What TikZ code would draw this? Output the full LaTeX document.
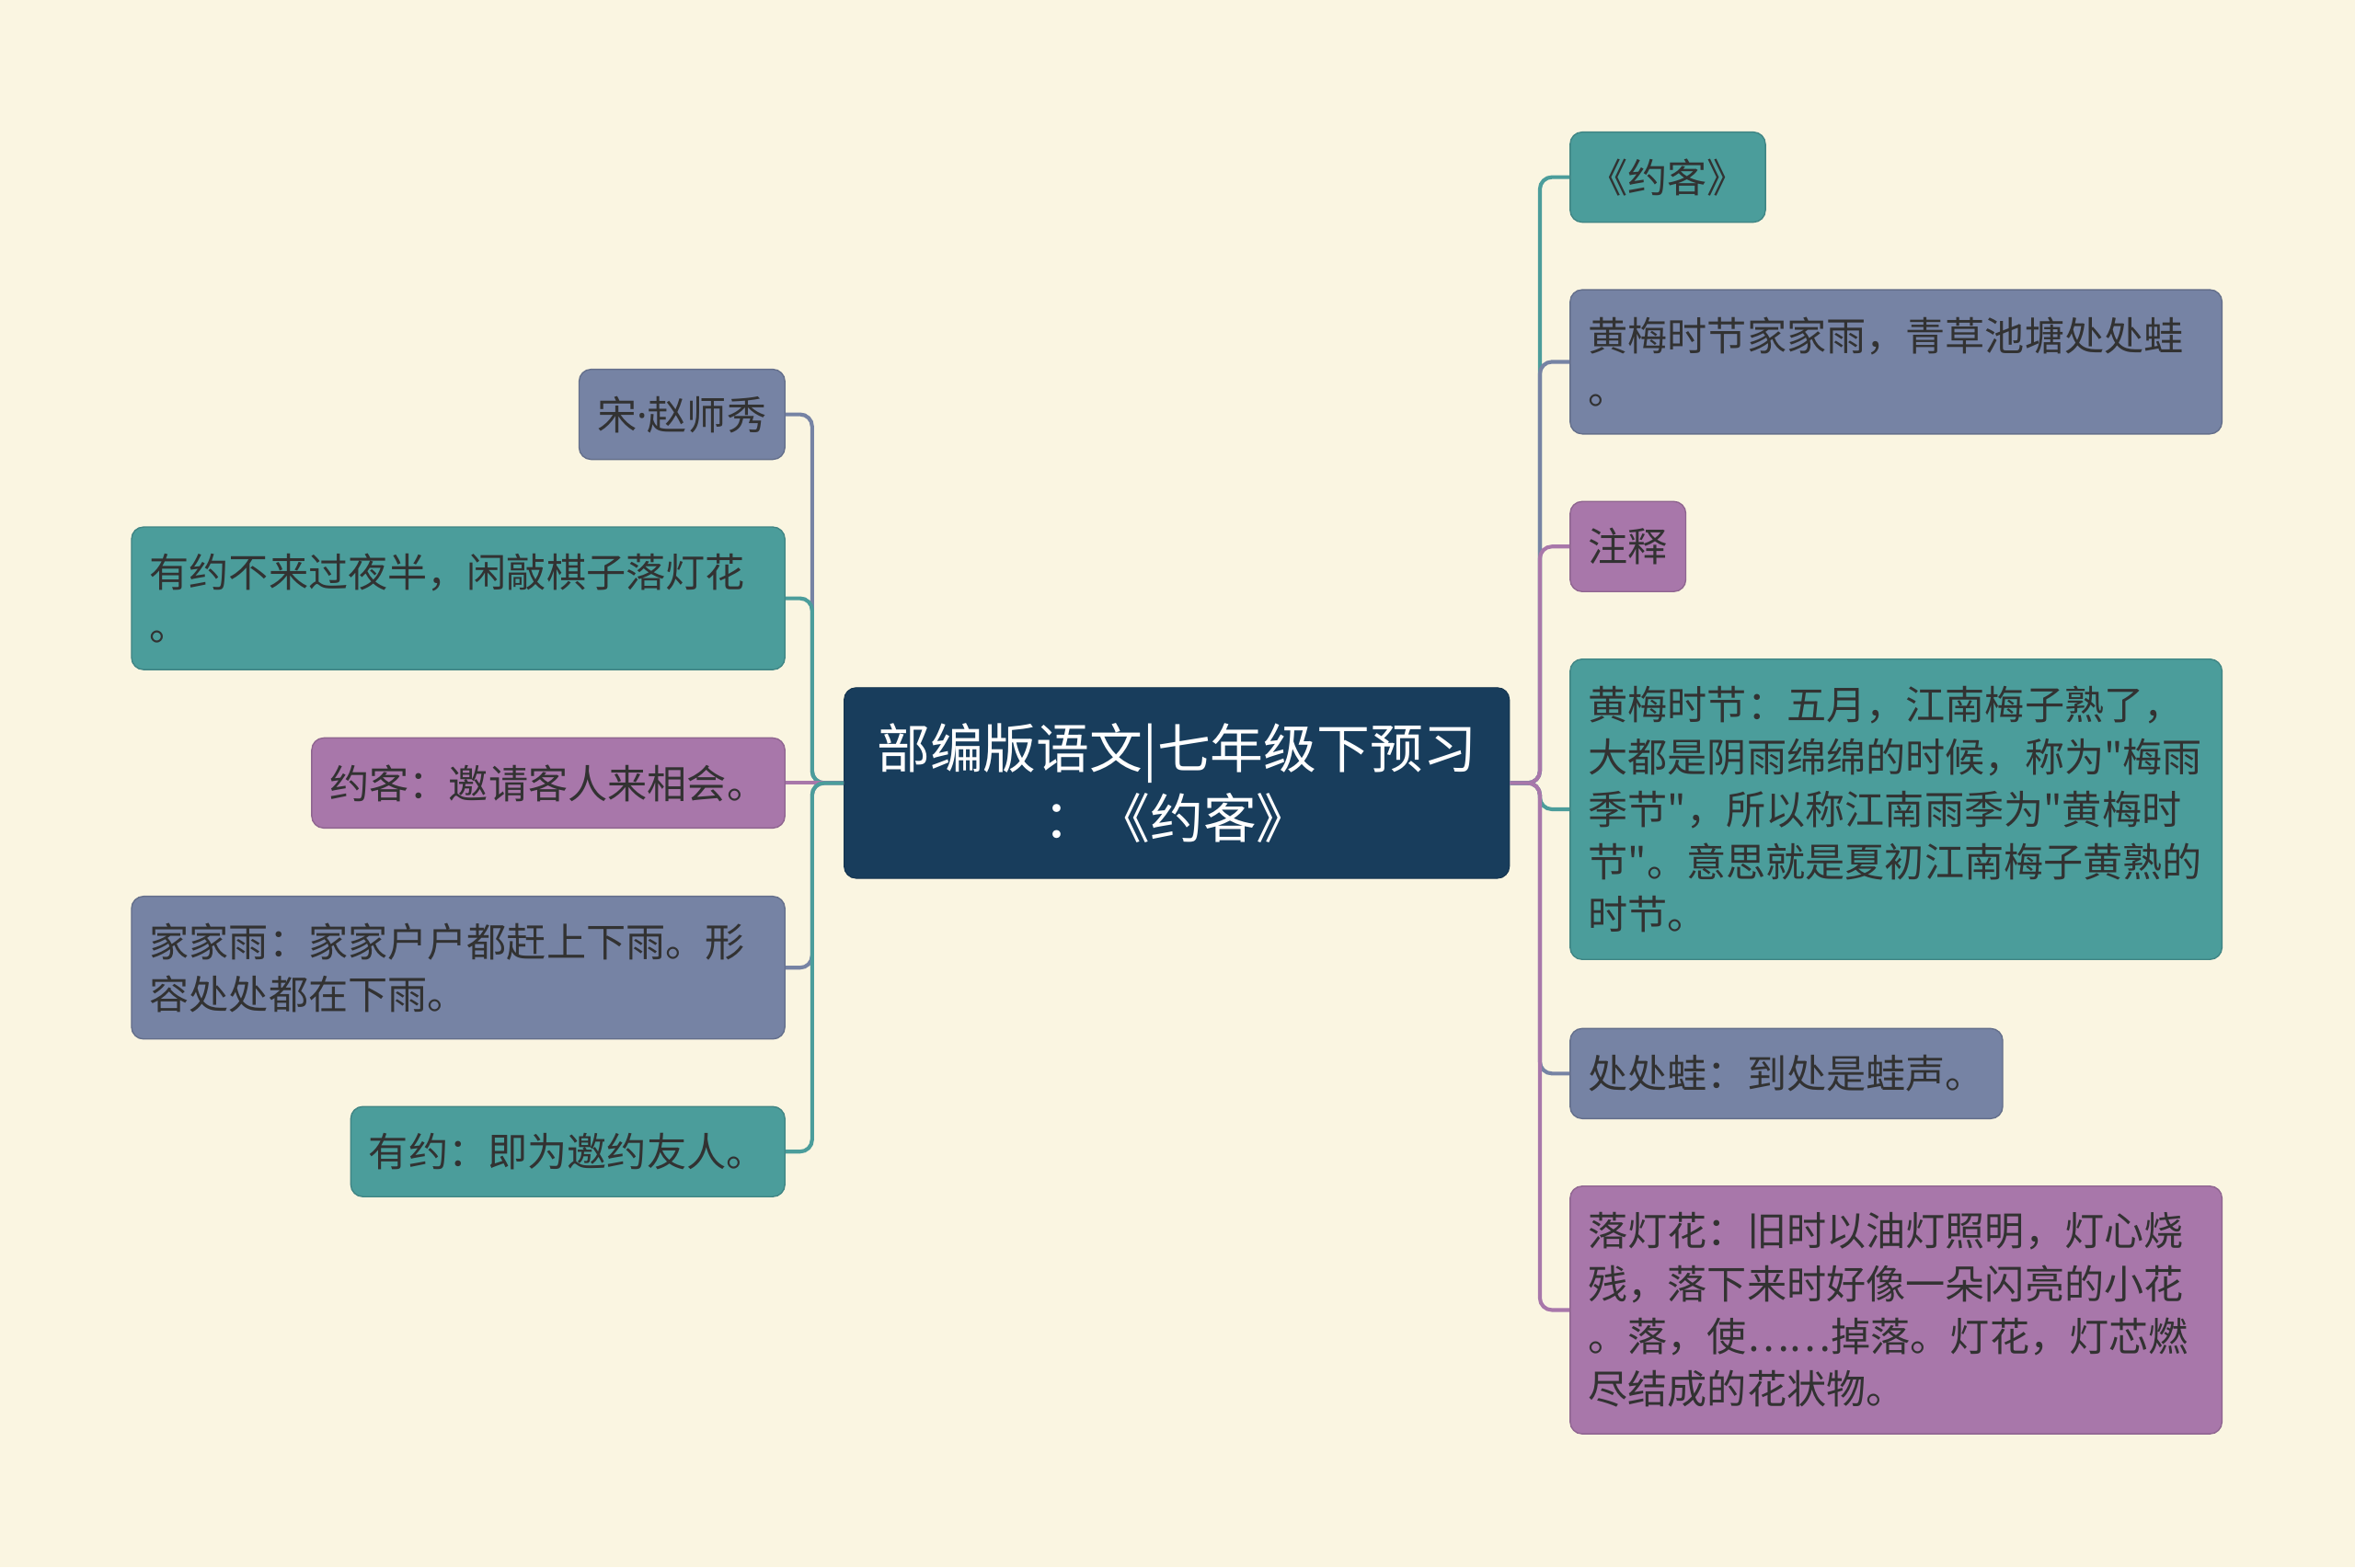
\documentclass[tikz,border=0pt]{standalone}
\usepackage{fontspec}
\newfontfamily\cjk{Noto Sans CJK SC}
\newfontfamily\latinfont{Noto Sans}
\definecolor{BgColor}{RGB}{250,245,225}
\definecolor{RootColor}{RGB}{24,61,92}
\definecolor{TealColor}{RGB}{75,157,155}
\definecolor{SlateColor}{RGB}{118,131,164}
\definecolor{PurpleColor}{RGB}{168,119,170}
\definecolor{TextColor}{RGB}{50,50,50}
\usetikzlibrary{positioning}
\tikzset{
  topic/.style={rectangle, rounded corners=0.2cm, fill=RootColor, draw=RootColor!85!black,
    text=white, font=\cjk\fontsize{25.2}{33.4}\selectfont, align=center,
    minimum width=11.075cm, minimum height=3.175cm},
  leaf/.style={rectangle, rounded corners=0.2cm, text=TextColor, line width=0.6pt,
    font=\cjk\fontsize{18.8}{24.9}\selectfont, align=left, inner xsep=0.3cm, inner ysep=0cm},
  teal leaf/.style={leaf, fill=TealColor, draw=TealColor!85!black},
  slate leaf/.style={leaf, fill=SlateColor, draw=SlateColor!85!black},
  purple leaf/.style={leaf, fill=PurpleColor, draw=PurpleColor!85!black},
  link/.style={line width=1.8pt, rounded corners=0.2cm}
}
\begin{document}
\begin{tikzpicture}
            % Background
            \fill[BgColor] (0,0) rectangle (39.2,26.1);
            \useasboundingbox (0,0) rectangle (39.2,26.1);

            % Central topic
            \node[topic] (root) at (19.5875,13.0625) {部编版语文|七年级下预习\\：《约客》};

            % Left branches
            \node[slate leaf, anchor=east, text width=2.825cm, minimum height=1.5cm] (author) at (13.075,19.2) {宋{\latinfont ·}赵师秀};
            \node[teal leaf, anchor=east, text width=10.275cm, minimum height=2.375cm] (poem) at (13.075,16.1375) {有约不来过夜半，闲敲棋子落灯花\\。};
            \node[purple leaf, anchor=east, text width=7.275cm, minimum height=1.5cm] (yueke) at (13.075,13.0625) {约客：邀请客人来相会。};
            \node[slate leaf, anchor=east, text width=10.275cm, minimum height=2.375cm] (jiajiayu) at (13.075,9.9875) {家家雨：家家户户都赶上下雨。形\\容处处都在下雨。};
            \node[teal leaf, anchor=east, text width=6.625cm, minimum height=1.5cm] (youyue) at (13.075,6.925) {有约：即为邀约友人。};

            % Right branches
            \node[teal leaf, anchor=west, text width=2.65cm, minimum height=1.5cm] (title) at (26.125,23.15) {《约客》};
            \node[slate leaf, anchor=west, text width=10.25cm, minimum height=2.4cm] (verse) at (26.125,20.075) {黄梅时节家家雨，青草池塘处处蛙\\。};
            \node[purple leaf, anchor=west, text width=1.325cm, minimum height=1.5cm] (notes) at (26.125,17.0) {注释};
            \node[teal leaf, anchor=west, text width=10.25cm, minimum height=5.0cm] (huangmei) at (26.125,12.625) {黄梅时节：五月，江南梅子熟了，\\大都是阴雨绵绵的时候，称为"梅雨\\季节"，所以称江南雨季为"黄梅时\\节"。意思就是夏初江南梅子黄熟的\\时节。};
            \node[slate leaf, anchor=west, text width=6.6cm, minimum height=1.5cm] (frogs) at (26.125,8.225) {处处蛙：到处是蛙声。};
            \node[purple leaf, anchor=west, text width=10.25cm, minimum height=4.125cm] (denghua) at (26.125,4.2875) {落灯花：旧时以油灯照明，灯心烧\\残，落下来时好像一朵闪亮的小花\\。落，使……掉落。灯花，灯芯燃\\尽结成的花状物。};

            % Left connectors
            \draw[link, SlateColor] (root.west) -- ++(-0.525,0) |- (author.east);
            \draw[link, TealColor] (root.west) -- ++(-0.525,0) |- (poem.east);
            \draw[link, SlateColor] (root.west) -- ++(-0.525,0) |- (jiajiayu.east);
            \draw[link, PurpleColor] (root.west) -- (yueke.east);
            \draw[link, TealColor] (root.west) -- ++(-0.525,0) |- (youyue.east);

            % Right connectors
            \draw[link, TealColor] (root.east) -- ++(0.5,0) |- (title.west);
            \draw[link, SlateColor] (root.east) -- ++(0.5,0) |- (verse.west);
            \draw[link, PurpleColor] (root.east) -- ++(0.5,0) |- (notes.west);
            \draw[link, TealColor] (root.east) -- ++(0.5,0) |- (huangmei.west);
            \draw[link, SlateColor] (root.east) -- ++(0.5,0) |- (frogs.west);
            \draw[link, PurpleColor] (root.east) -- ++(0.5,0) |- (denghua.west);
\end{tikzpicture}
\end{document}
